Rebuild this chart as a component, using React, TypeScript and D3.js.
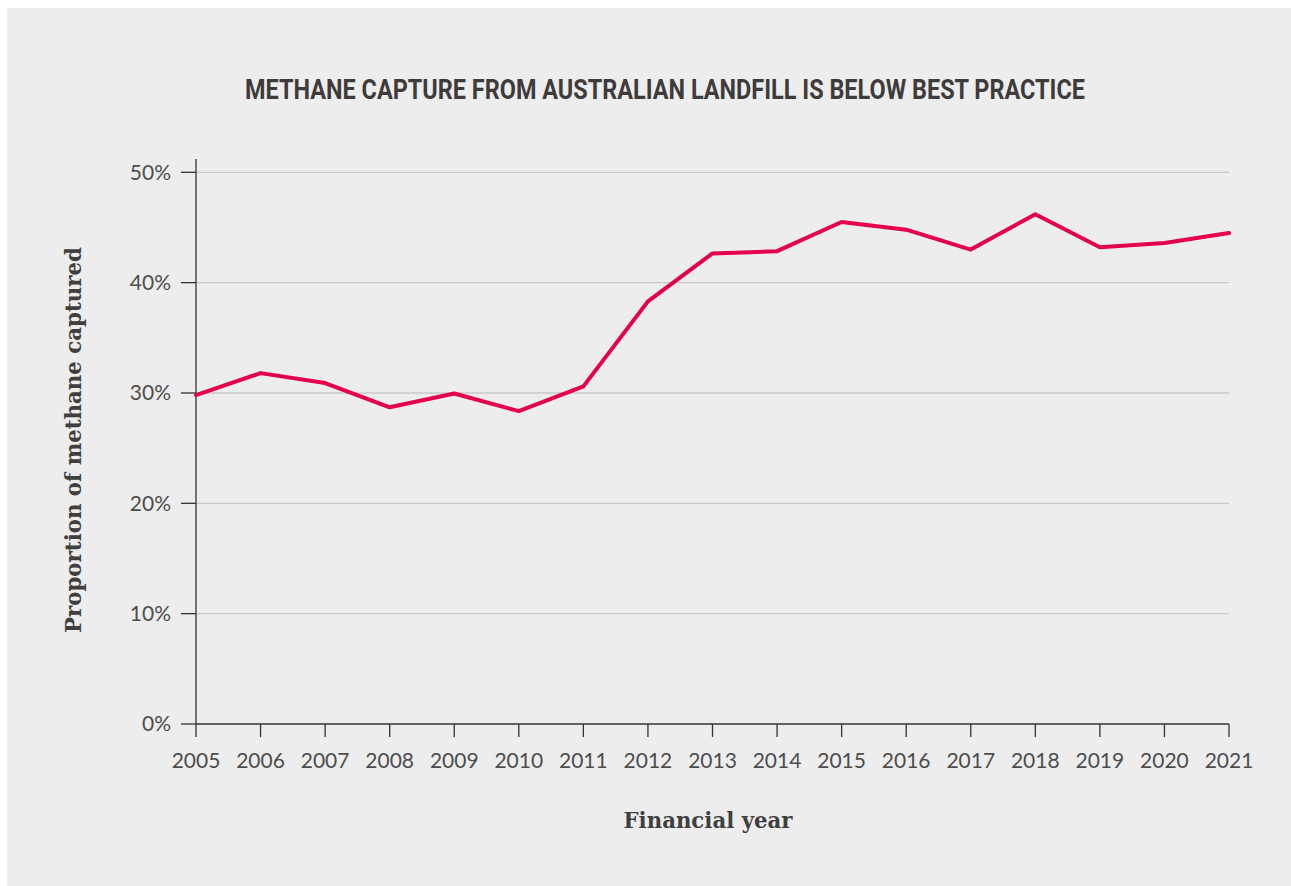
import React from "react";
import * as d3 from "d3";

const years = [2005, 2006, 2007, 2008, 2009, 2010, 2011, 2012, 2013, 2014, 2015, 2016, 2017, 2018, 2019, 2020, 2021];
const captured = [29.8, 31.8, 30.9, 28.7, 29.95, 28.35, 30.6, 38.3, 42.65, 42.85, 45.5, 44.8, 43.0, 46.2, 43.2, 43.6, 44.5];
const yTicks = [0, 10, 20, 30, 40, 50];

const title = "METHANE CAPTURE FROM AUSTRALIAN LANDFILL IS BELOW BEST PRACTICE";
const yLabel = "Proportion of methane captured";
const xLabel = "Financial year";

const W = 1291;
const H = 886;
const left = 196;
const right = 1229;
const top = 172.3;
const bottom = 724;

export default function App() {
  const x = d3.scaleLinear().domain([2005, 2021]).range([left, right]);
  const y = d3.scaleLinear().domain([0, 50]).range([bottom, top]);
  const line = d3
    .line<number>()
    .x((_, i) => x(years[i]))
    .y((d) => y(d));
  const tickFont = "Lato, 'Open Sans', sans-serif";
  const serif = "'DejaVu Serif', serif";
  return (
    <svg
      width={W}
      height={H}
      style={{ position: "absolute", left: 0, top: 0, display: "block" }}
    >
      <rect x={0} y={0} width={W} height={H} fill="#ffffff" />
      <rect x={7} y={8} width={W - 7} height={H - 8} fill="#ededed" />
      <text
        x={665}
        y={99}
        textAnchor="middle"
        fontFamily="Roboto, sans-serif"
        fontWeight={700}
        fontSize={27.5}
        fill="#3f3b3b"
        textLength={840}
        lengthAdjust="spacingAndGlyphs"
      >
        {title}
      </text>
      {yTicks.map((t) => (
        <g key={t}>
          {t > 0 && (
            <line x1={left} x2={right} y1={y(t)} y2={y(t)} stroke="#c8c8c8" strokeWidth={1.3} />
          )}
          <line x1={181} x2={left} y1={y(t)} y2={y(t)} stroke="#333" strokeWidth={1.3} />
          <text
            x={171}
            y={y(t)}
            dy="0.35em"
            textAnchor="end"
            fontFamily={tickFont}
            fontSize={21}
            fill="#4d4d4d"
          >
            {t}%
          </text>
        </g>
      ))}
      <line x1={left} x2={left} y1={159} y2={bottom} stroke="#333" strokeWidth={1.3} />
      <line x1={left} x2={right} y1={bottom} y2={bottom} stroke="#333" strokeWidth={1.3} />
      {years.map((yr) => (
        <g key={yr}>
          <line x1={x(yr)} x2={x(yr)} y1={bottom} y2={737} stroke="#333" strokeWidth={1.3} />
          <text
            x={x(yr)}
            y={768}
            textAnchor="middle"
            fontFamily={tickFont}
            fontSize={21}
            fill="#4d4d4d"
          >
            {yr}
          </text>
        </g>
      ))}
      <path
        d={line(captured) || ""}
        fill="none"
        stroke="#e4004f"
        strokeWidth={4}
        strokeLinejoin="round"
        strokeLinecap="round"
      />
      <text
        transform={`translate(81,440) rotate(-90)`}
        textAnchor="middle"
        fontFamily={serif}
        fontWeight={700}
        fontSize={23}
        fill="#3f3f3f"
        textLength={386}
        lengthAdjust="spacingAndGlyphs"
      >
        {yLabel}
      </text>
      <text
        x={708}
        y={828}
        textAnchor="middle"
        fontFamily={serif}
        fontWeight={700}
        fontSize={23}
        fill="#3f3f3f"
        textLength={169}
        lengthAdjust="spacingAndGlyphs"
      >
        {xLabel}
      </text>
    </svg>
  );
}
